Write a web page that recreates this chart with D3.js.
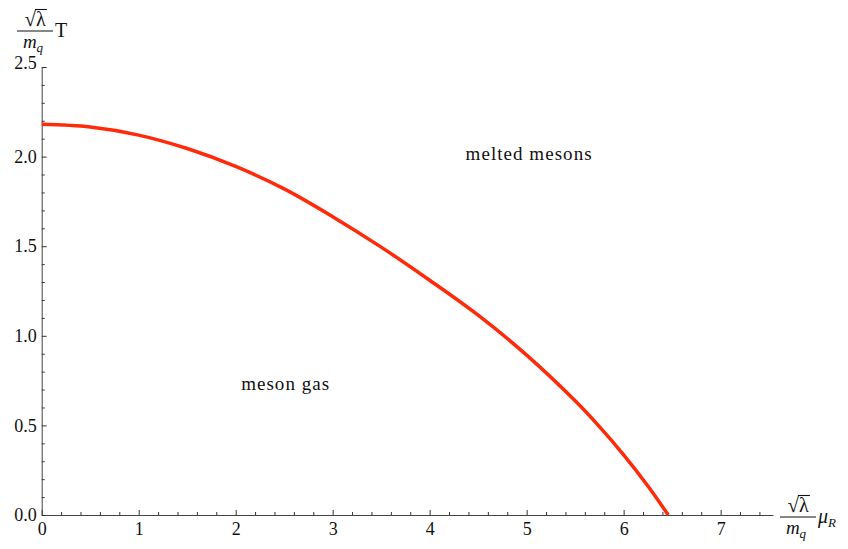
<html>
<head>
    <title>Phase diagram</title>
    <script src='https://d3js.org/d3.v7.min.js'></script>
    <style>
        body { margin: 0; background: white; }
    </style>
</head>
<body>
    <svg id="chart"></svg>
    <script>
        // values
        var mu = [0, 0.5, 1, 1.5, 2, 2.5, 3, 3.5, 4, 4.5, 5, 5.5, 5.75, 6, 6.25, 6.46];
        var temp = [2.18, 2.165, 2.12, 2.045, 1.945, 1.82, 1.665, 1.495, 1.31, 1.115, 0.892, 0.637, 0.493, 0.336, 0.162, 0];
        var xTicks = [0, 1, 2, 3, 4, 5, 6, 7];
        var yTicks = [0, 0.5, 1.0, 1.5, 2.0, 2.5];
        var regionLabels = ["melted mesons", "meson gas"];
        var regionPos = [[5.02, 1.98], [2.51, 0.70]];

        var serif = "'Liberation Serif', 'Times New Roman', 'DejaVu Serif', serif";
        var width = 848, height = 549;
        var svg = d3.select("#chart").attr("width", width).attr("height", height)
            .attr("font-family", serif);

        var x = d3.scaleLinear().domain([0, 7.54]).range([41.7, 773]);
        var y = d3.scaleLinear().domain([0, 2.5]).range([515, 67]);

        // minor ticks
        var xMinor = d3.range(0, 7.5, 0.2).filter(function (v) { return Math.abs(v - Math.round(v)) > 0.01; });
        var yMinor = d3.range(0, 2.5, 0.1).filter(function (v) { return Math.abs(v * 2 - Math.round(v * 2)) > 0.01; });

        svg.append("g")
            .attr("transform", "translate(0," + y(0) + ")")
            .call(d3.axisBottom(x).tickValues(xMinor).tickSize(-3).tickFormat(""))
            .call(function (g) { g.selectAll("line").attr("stroke", "#333"); g.select(".domain").remove(); });
        svg.append("g")
            .attr("transform", "translate(" + x(0) + ",0)")
            .call(d3.axisLeft(y).tickValues(yMinor).tickSize(-3).tickFormat(""))
            .call(function (g) { g.selectAll("line").attr("stroke", "#333"); g.select(".domain").remove(); });

        var xAxis = svg.append("g")
            .attr("transform", "translate(0," + y(0) + ")")
            .call(d3.axisBottom(x).tickValues(xTicks).tickSize(-5).tickSizeOuter(0).tickPadding(7).tickFormat(d3.format("d")));
        xAxis.attr("font-family", serif);
        xAxis.selectAll("text").style("font-size", "18px").attr("fill", "#111");
        xAxis.selectAll("line").attr("stroke", "#333");
        xAxis.select(".domain").attr("stroke", "#444");

        var yAxis = svg.append("g")
            .attr("transform", "translate(" + x(0) + ",0)")
            .call(d3.axisLeft(y).tickValues(yTicks).tickSize(-5).tickSizeOuter(0).tickPadding(5).tickFormat(d3.format(".1f")));
        yAxis.attr("font-family", serif);
        yAxis.selectAll("text").style("font-size", "18px").attr("fill", "#111");
        yAxis.selectAll("line").attr("stroke", "#333");
        yAxis.select(".domain").attr("stroke", "#444");
        // the 2.5 label sits a little above its tick
        yAxis.selectAll(".tick text").filter(function (d) { return d === 2.5; }).attr("dy", "0.1em");

        // curve
        var line = d3.line()
            .x(function (d) { return x(d[0]); })
            .y(function (d) { return y(d[1]); })
            .curve(d3.curveCatmullRom);
        svg.append("path")
            .datum(d3.zip(mu, temp))
            .attr("d", line)
            .attr("fill", "none")
            .attr("stroke", "#ff2a0a")
            .attr("stroke-width", 3.5);

        // region labels (Mathematica sets these a bit wider than the font's own widths)
        var labelWidths = [126, 88];
        svg.selectAll(".region")
            .data(regionLabels)
            .enter()
            .append("text")
            .attr("class", "region")
            .attr("x", function (d, i) { return x(regionPos[i][0]) - labelWidths[i] / 2; })
            .attr("y", function (d, i) { return y(regionPos[i][1]); })
            .attr("textLength", function (d, i) { return labelWidths[i]; })
            .attr("lengthAdjust", "spacing")
            .attr("fill", "#111")
            .style("font-size", "19px")
            .text(function (d) { return d; });

        // axis labels: sqrt(lambda)/m_q T and sqrt(lambda)/m_q mu_R
        function fracLabel(cx, cy, tail, sub) {
            var g = svg.append("g").attr("transform", "translate(" + cx + "," + cy + ")");
            var top = g.append("text").attr("x", 0).attr("y", -5).attr("text-anchor", "middle")
                .attr("fill", "#111").style("font-size", "21px");
            top.append("tspan").text("\u221A");
            var lam = top.append("tspan").style("font-size", "20px").text("\u03BB");
            var bb = lam.node().getBBox();
            var rb = top.node().getBBox();
            g.append("line").attr("x1", bb.x - 1).attr("x2", bb.x + bb.width + 1)
                .attr("y1", rb.y + 2.5).attr("y2", rb.y + 2.5)
                .attr("stroke", "#111").attr("stroke-width", 1.1);
            g.append("line").attr("x1", -18).attr("x2", 18).attr("y1", 0).attr("y2", 0)
                .attr("stroke", "#111").attr("stroke-width", 1.2);
            var m = g.append("text").attr("x", -2).attr("y", 17).attr("text-anchor", "middle")
                .attr("fill", "#111").style("font-size", "19px").style("font-style", "italic");
            m.append("tspan").text("m");
            m.append("tspan").attr("dy", 4).style("font-size", "13px").text("q");
            var t = g.append("text").attr("x", 20).attr("y", 6).attr("fill", "#111").style("font-size", "20px");
            if (sub) {
                t.append("tspan").style("font-style", "italic").text(tail);
                t.append("tspan").attr("dy", 4).style("font-size", "13px").style("font-style", "italic").text(sub);
            } else {
                t.text(tail);
            }
        }
        fracLabel(35, 31, "T", null);
        fracLabel(798, 517, "\u03BC", "R");
    </script>
</body>
</html>
